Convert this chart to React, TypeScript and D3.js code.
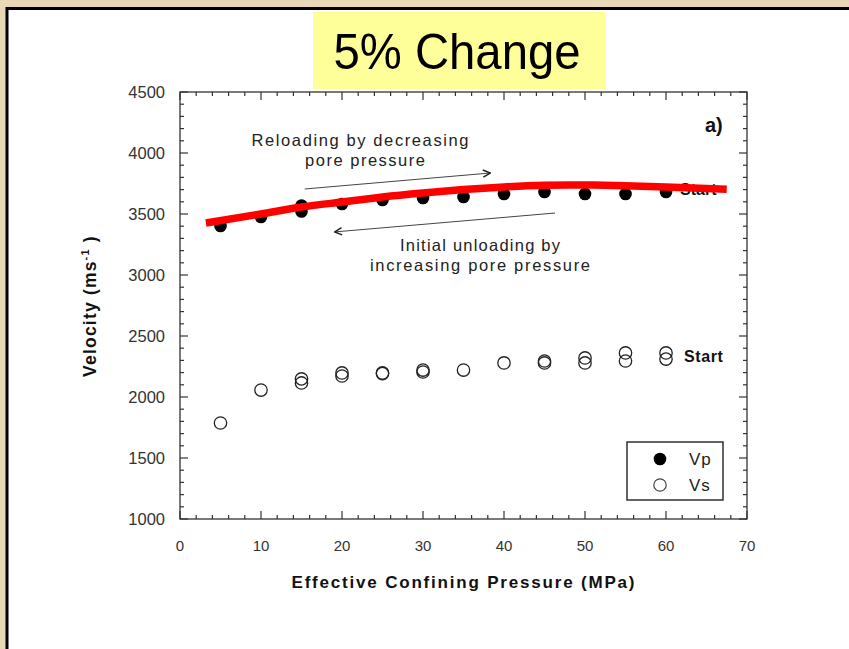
import React from 'react';
import * as d3 from 'd3';

// Vp (filled) - loading and unloading points, MPa / m/s
const vpPressure = [5, 10, 15, 15, 20, 25, 30, 35, 40, 45, 50, 55, 60];
const vpVelocity = [3402, 3475, 3520, 3570, 3582, 3615, 3631, 3639, 3664, 3680, 3664, 3664, 3680];

// Vs (open) - loading and unloading points
const vsPressure = [5, 10, 15, 15, 20, 20, 25, 25, 30, 30, 35, 40, 45, 45, 50, 50, 55, 55, 60, 60];
const vsVelocity = [1787, 2057, 2148, 2115, 2197, 2172, 2197, 2192, 2221, 2205, 2221, 2279, 2295, 2279, 2320, 2279, 2361, 2295, 2361, 2311];

// red trend line drawn over Vp
const fitPressure = [3.2, 10, 15, 20, 25, 30, 35, 40, 45, 50, 55, 60, 67.5];
const fitVelocity = [3426, 3500, 3557, 3598, 3639, 3672, 3700, 3722, 3736, 3738, 3732, 3722, 3702];

const xTicks = [0, 10, 20, 30, 40, 50, 60, 70];
const yTicks = [1000, 1500, 2000, 2500, 3000, 3500, 4000, 4500];

const W = 849;
const H = 649;
const left = 180, right = 747, top = 92, bottom = 519;

export default function App() {
  const x = d3.scaleLinear().domain([0, 70]).range([left, right]);
  const y = d3.scaleLinear().domain([1000, 4500]).range([bottom, top]);

  const xMinor = d3.range(0, 71, 2);
  const yMinor = d3.range(1000, 4501, 100);

  const line = d3.line<number>()
    .x((d, i) => x(fitPressure[i]))
    .y(d => y(d))
    .curve(d3.curveNatural);

  const font = "'Liberation Sans', Arial, Helvetica, sans-serif";

  return (
    <div style={{ position: 'fixed', left: 0, top: 0 }}>
      <svg width={W} height={H} style={{ display: 'block' }} fontFamily={font}>
        <defs>
          <marker id="arr" viewBox="0 0 10 10" refX="9" refY="5" markerWidth="9" markerHeight="9" orient="auto" markerUnits="userSpaceOnUse">
            <path d="M1,1 L9,5 L1,9" fill="none" stroke="#222" strokeWidth="1.6" />
          </marker>
        </defs>
        <rect x={0} y={0} width={W} height={H} fill="#e8d8b8" />
        <rect x={7} y={8.5} width={W} height={H} fill="#fff" stroke="#000" strokeWidth={3} />

        {/* title */}
        <rect x={313} y={12} width={293} height={77} fill="#ffff99" />
        <text x={457} y={69} textAnchor="middle" fontSize={50} fill="#000"
          textLength={247} lengthAdjust="spacingAndGlyphs">5% Change</text>

        {/* plot frame */}
        <rect x={left} y={top} width={right - left} height={bottom - top} fill="none" stroke="#333" strokeWidth={1.3} />

        {/* ticks, inward on all sides */}
        {xMinor.map(v => {
          const len = v % 10 === 0 ? 8 : 4;
          return (
            <g key={'xt' + v} stroke="#333" strokeWidth={1.2}>
              <line x1={x(v)} x2={x(v)} y1={bottom} y2={bottom - len} />
              <line x1={x(v)} x2={x(v)} y1={top} y2={top + len} />
            </g>
          );
        })}
        {yMinor.map(v => {
          const len = v % 500 === 0 ? 8 : 4;
          return (
            <g key={'yt' + v} stroke="#333" strokeWidth={1.2}>
              <line x1={left} x2={left + len} y1={y(v)} y2={y(v)} />
              <line x1={right} x2={right - len} y1={y(v)} y2={y(v)} />
            </g>
          );
        })}

        {xTicks.map(v => (
          <text key={'xl' + v} x={x(v)} y={551} textAnchor="middle" fontSize={15} fill="#333">{v}</text>
        ))}
        {yTicks.map(v => (
          <text key={'yl' + v} x={165} y={y(v) + 5.5} textAnchor="end" fontSize={16.5} fill="#333">{v}</text>
        ))}

        {/* axis titles */}
        <text x={463} y={588} textAnchor="middle" fontSize={17} fontWeight="bold" fill="#111"
          textLength={343} lengthAdjust="spacing">Effective Confining Pressure (MPa)</text>
        <text transform="translate(96,306) rotate(-90)" textAnchor="middle" fontSize={17.5} fontWeight="bold" fill="#111" letterSpacing={1.2}>
          Velocity (ms<tspan dy={-7} fontSize={11}>-1</tspan><tspan dy={7}> )</tspan>
        </text>

        {/* Vs open circles */}
        {vsVelocity.map((v, i) => (
          <circle key={'vs' + i} cx={x(vsPressure[i])} cy={y(v)} r={6.2} fill="none" stroke="#222" strokeWidth={1.3} />
        ))}

        {/* Vp filled */}
        {vpVelocity.map((v, i) => (
          <circle key={'vp' + i} cx={x(vpPressure[i])} cy={y(v)} r={6.3} fill="#000" />
        ))}

        <text x={680} y={195} fontSize={16} fontWeight="bold" fill="#111">Start</text>
        <text x={684} y={362} fontSize={16} fontWeight="bold" fill="#111" letterSpacing={0.6}>Start</text>

        {/* red trend */}
        <path d={line(fitVelocity) || ''} fill="none" stroke="#ff0000" strokeWidth={7.5} />

        {/* annotations */}
        <line x1={x(15.4)} y1={y(3705)} x2={x(38.3)} y2={y(3836)} stroke="#444" strokeWidth={1} markerEnd="url(#arr)" />
        <line x1={x(46.3)} y1={y(3508)} x2={x(19.1)} y2={y(3353)} stroke="#444" strokeWidth={1} markerEnd="url(#arr)" />
        <text x={360} y={146} textAnchor="middle" fontSize={16.5} fill="#222" textLength={217} lengthAdjust="spacing">Reloading by decreasing</text>
        <text x={365} y={166} textAnchor="middle" fontSize={16.5} fill="#222" textLength={120} lengthAdjust="spacing">pore pressure</text>
        <text x={480} y={251} textAnchor="middle" fontSize={16.5} fill="#222" textLength={160} lengthAdjust="spacing">Initial unloading by</text>
        <text x={480} y={271} textAnchor="middle" fontSize={16.5} fill="#222" textLength={220} lengthAdjust="spacing">increasing pore pressure</text>

        <text x={705} y={132} fontSize={20} fontWeight="bold" fill="#111">a)</text>

        {/* legend */}
        <rect x={627} y={442} width={96} height={58} fill="#fff" stroke="#222" strokeWidth={1.4} />
        <circle cx={660} cy={459} r={6.3} fill="#000" />
        <circle cx={660} cy={485} r={6.2} fill="none" stroke="#444" strokeWidth={1.2} />
        <text x={689} y={465} fontSize={17} fill="#222" letterSpacing={1}>Vp</text>
        <text x={689} y={491} fontSize={17} fill="#222" letterSpacing={1}>Vs</text>
      </svg>
    </div>
  );
}
